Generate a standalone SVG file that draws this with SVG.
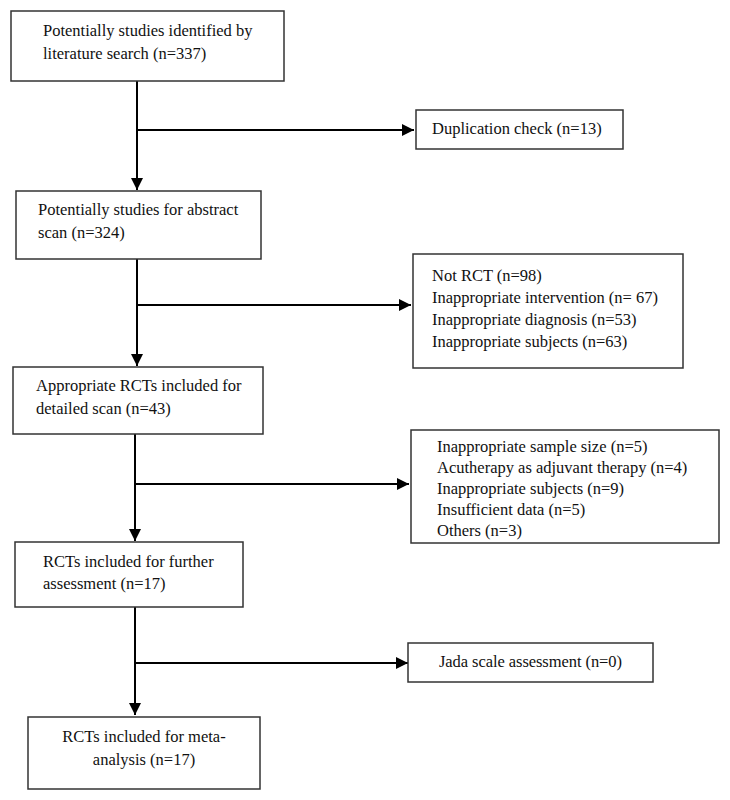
<svg xmlns="http://www.w3.org/2000/svg" width="730" height="800" viewBox="0 0 730 800">
<style>
.box{fill:#fff;stroke:#333;stroke-width:1.5}
.t{font-family:"Liberation Serif","Times New Roman",serif;font-size:16.5px;fill:#111}
.c{stroke:#000;stroke-width:2;fill:none}
</style>
<defs>
<marker id="ah" viewBox="0 0 10 10" refX="10" refY="5" markerWidth="6" markerHeight="6" markerUnits="strokeWidth" orient="auto">
<path d="M0,0 L10,5 L0,10 Z" fill="#000"/>
</marker>
</defs>
<rect width="730" height="800" fill="#fff"/>
<g id="connectors">
<path class="c" d="M137,81 V190" marker-end="url(#ah)"/>
<path class="c" d="M137,130 H414" marker-end="url(#ah)"/>
<path class="c" d="M137,259 V366" marker-end="url(#ah)"/>
<path class="c" d="M137,305 H411" marker-end="url(#ah)"/>
<path class="c" d="M135,434 V541" marker-end="url(#ah)"/>
<path class="c" d="M135,484 H409" marker-end="url(#ah)"/>
<path class="c" d="M135,607 V715" marker-end="url(#ah)"/>
<path class="c" d="M135,663 H408" marker-end="url(#ah)"/>
</g>
<g id="n1">
<rect class="box" x="11" y="11" width="273" height="70"/>
<text class="t" x="43" y="36">Potentially studies identified by</text>
<text class="t" x="43" y="59">literature search (n=337)</text>
</g>
<g id="n2">
<rect class="box" x="416" y="110" width="207" height="39"/>
<text class="t" x="432" y="134">Duplication check (n=13)</text>
</g>
<g id="n3">
<rect class="box" x="16" y="191" width="245" height="68"/>
<text class="t" x="38" y="215">Potentially studies for abstract</text>
<text class="t" x="38" y="238">scan (n=324)</text>
</g>
<g id="n4">
<rect class="box" x="413" y="254" width="270" height="114"/>
<text class="t" x="432" y="281">Not RCT (n=98)</text>
<text class="t" x="432" y="303">Inappropriate intervention (n= 67)</text>
<text class="t" x="432" y="325">Inappropriate diagnosis (n=53)</text>
<text class="t" x="432" y="347">Inappropriate subjects (n=63)</text>
</g>
<g id="n5">
<rect class="box" x="13" y="367" width="250" height="67"/>
<text class="t" x="36" y="391">Appropriate RCTs included for</text>
<text class="t" x="36" y="414">detailed scan (n=43)</text>
</g>
<g id="n6">
<rect class="box" x="411" y="430" width="308" height="113"/>
<text class="t" x="437" y="452">Inappropriate sample size (n=5)</text>
<text class="t" x="437" y="473">Acutherapy as adjuvant therapy (n=4)</text>
<text class="t" x="437" y="494">Inappropriate subjects (n=9)</text>
<text class="t" x="437" y="515">Insufficient data (n=5)</text>
<text class="t" x="437" y="536">Others (n=3)</text>
</g>
<g id="n7">
<rect class="box" x="15" y="542" width="228" height="65"/>
<text class="t" x="43" y="567">RCTs included for further</text>
<text class="t" x="43" y="589">assessment (n=17)</text>
</g>
<g id="n8">
<rect class="box" x="408" y="643" width="245" height="39"/>
<text class="t" x="439" y="667" textLength="183">Jada scale assessment (n=0)</text>
</g>
<g id="n9">
<rect class="box" x="28" y="717" width="232" height="72"/>
<text class="t" x="144" y="742" text-anchor="middle">RCTs included for meta-</text>
<text class="t" x="144" y="765" text-anchor="middle">analysis (n=17)</text>
</g>
</svg>
